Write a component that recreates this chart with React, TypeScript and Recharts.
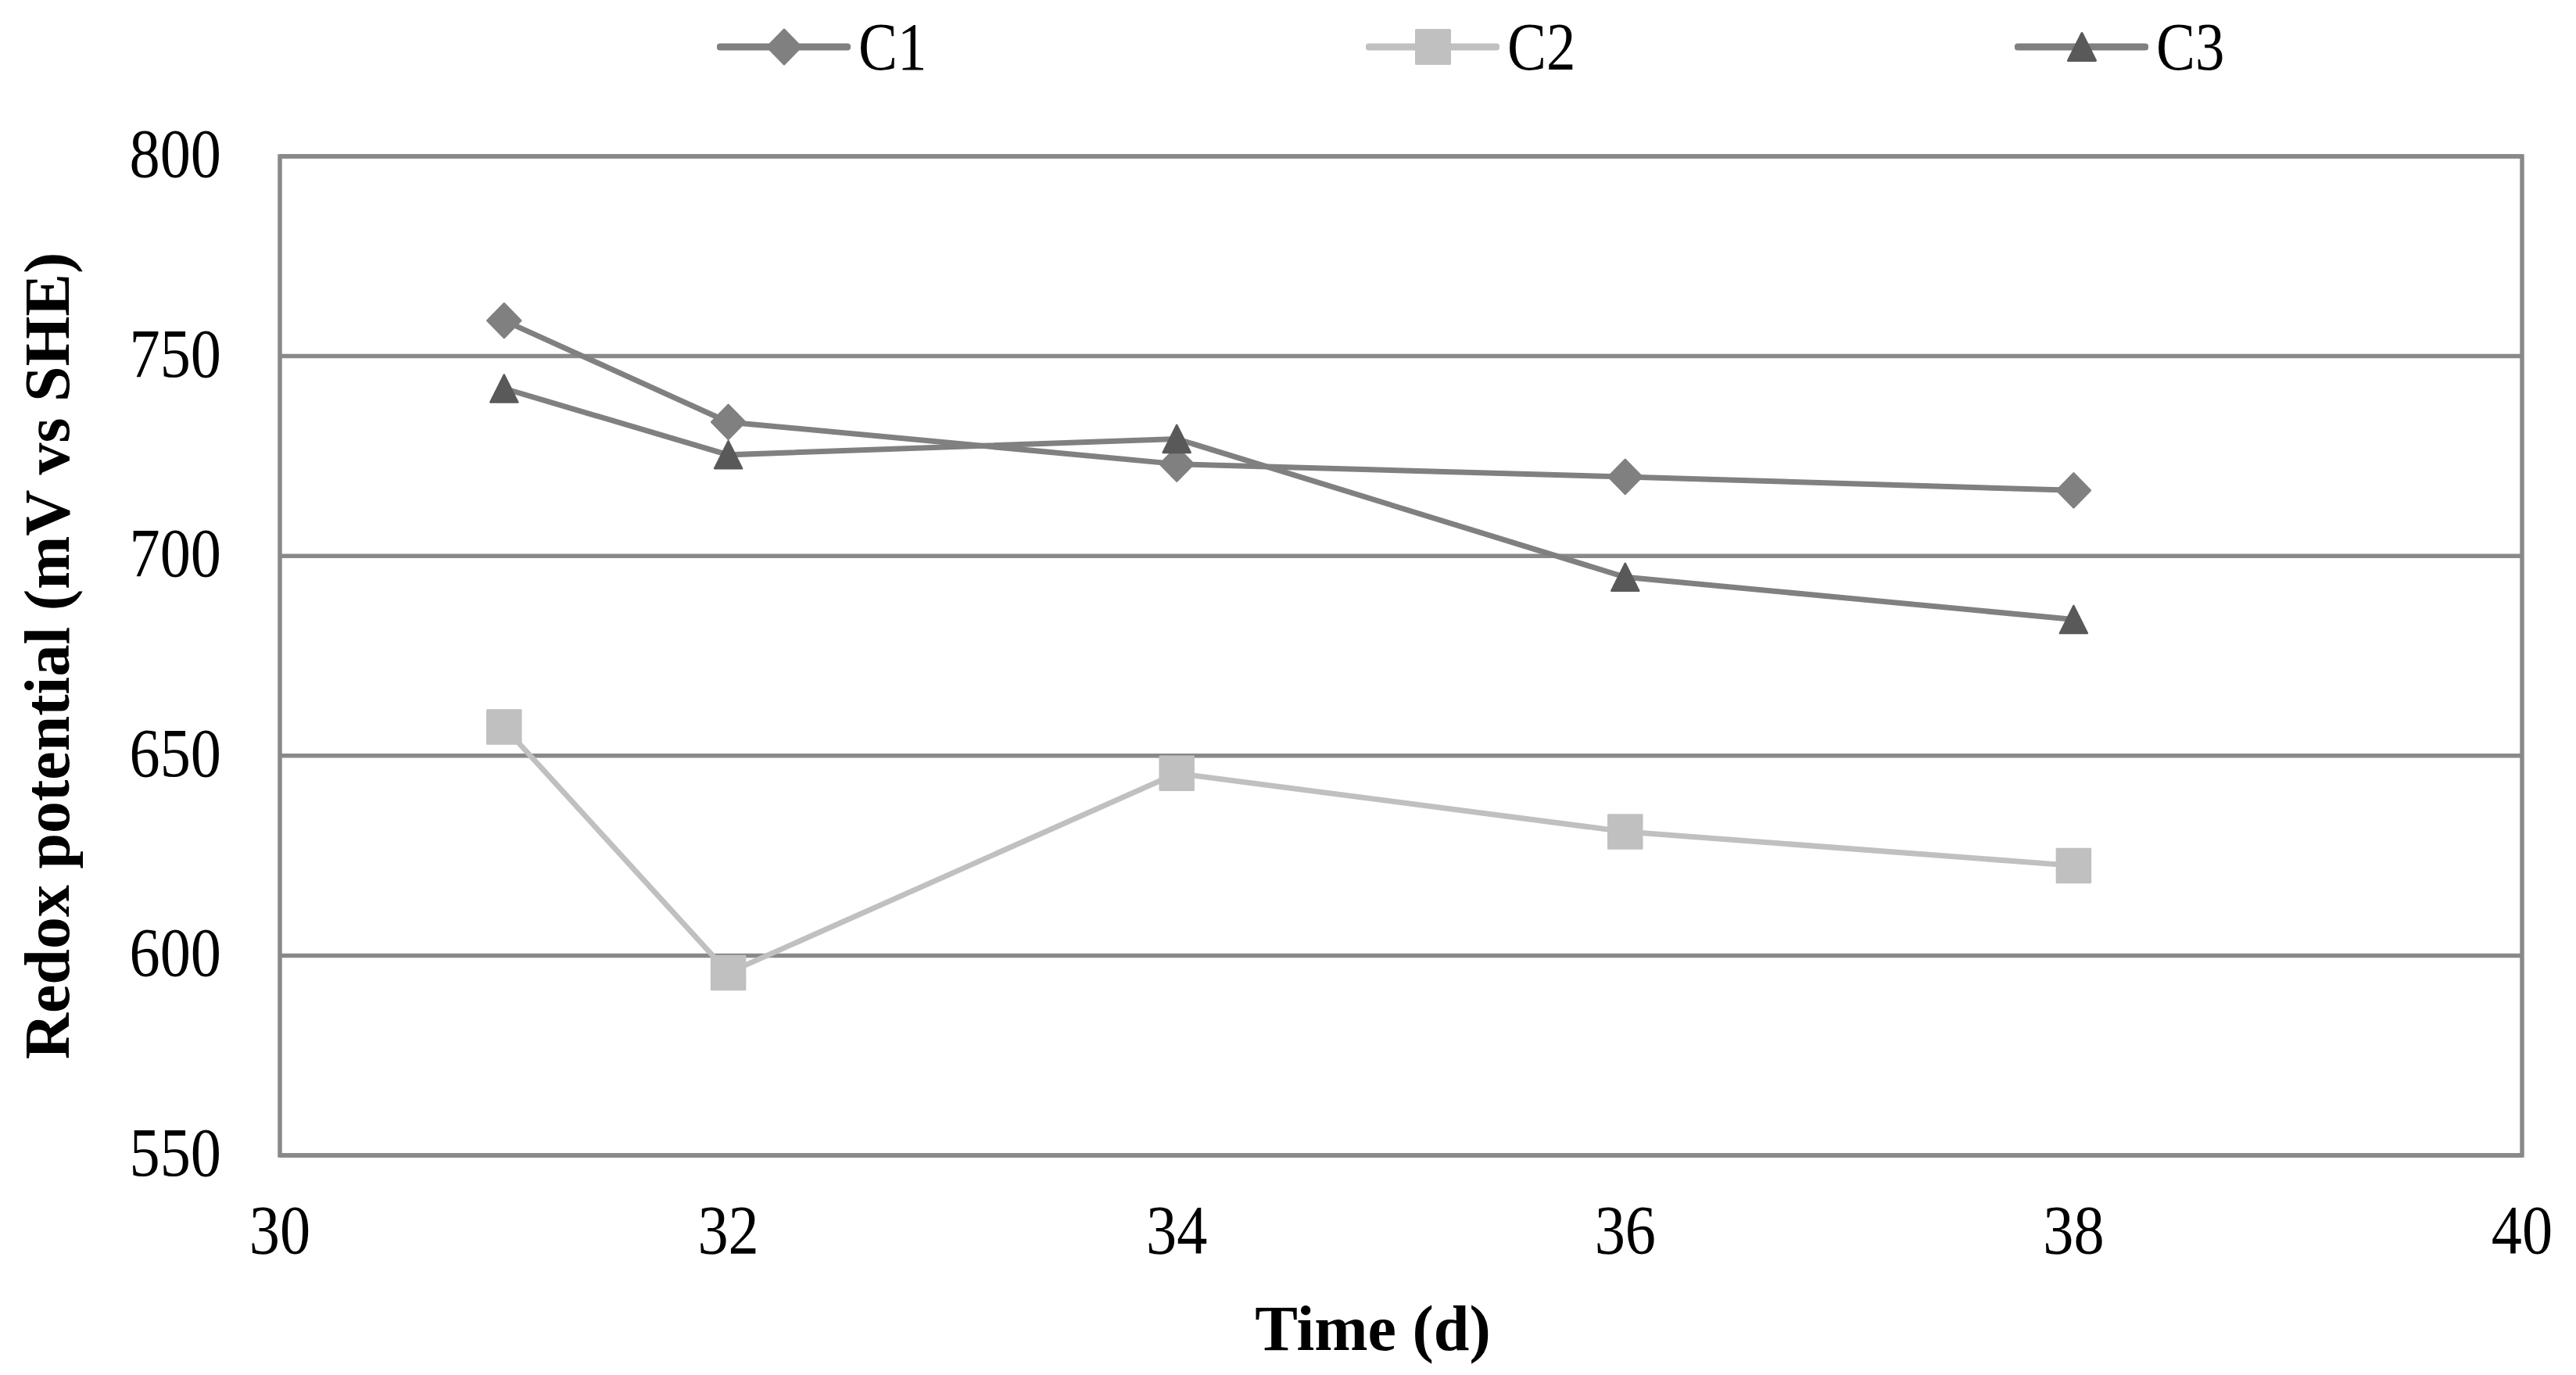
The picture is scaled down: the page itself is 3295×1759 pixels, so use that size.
import React from 'react'
import {
  LineChart,
  Line,
  XAxis,
  YAxis,
  CartesianGrid,
  Legend,
  ReferenceArea,
} from 'recharts'

// days of measurement
const days = [31, 32, 34, 36, 38]
// redox potential (mV vs SHE) per column
const c1 = [758.9, 733.5, 723, 719.8, 716.4]
const c2 = [657.2, 595.7, 645.6, 631, 622.5]
const c3 = [741.9, 725.3, 729.3, 694.7, 684.1]
const seriesNames = ['C1', 'C2', 'C3']
const xTicks = [30, 32, 34, 36, 38, 40]
const yTicks = [550, 600, 650, 700, 750, 800]

const data = days.map((d, i) => ({ day: d, C1: c1[i], C2: c2[i], C3: c3[i] }))

const GRID = '#898989'
const SERIF = '"Liberation Serif", "Times New Roman", serif'

const diamondPath = (cx: number, cy: number, w: number, h: number) =>
  `M${cx},${cy - h / 2} L${cx + w / 2},${cy} L${cx},${cy + h / 2} L${cx - w / 2},${cy} Z`
const squarePath = (cx: number, cy: number, s: number) =>
  `M${cx - s / 2},${cy - s / 2} h${s} v${s} h${-s} Z`
const trianglePath = (cx: number, cy: number, w: number, h: number) =>
  `M${cx},${cy - h / 2} L${cx + w / 2},${cy + h / 2} L${cx - w / 2},${cy + h / 2} Z`

const markers: Record<string, { path: (cx: number, cy: number) => string; fill: string; line: string }> = {
  C1: { path: (cx, cy) => diamondPath(cx, cy, 43, 44), fill: '#808080', line: '#808080' },
  C2: { path: (cx, cy) => squarePath(cx, cy, 43), fill: '#c0c0c0', line: '#c0c0c0' },
  C3: { path: (cx, cy) => trianglePath(cx, cy, 35, 35), fill: '#595959', line: '#808080' },
}

const makeDot = (name: string) => (props: any) => {
  const { cx, cy, index } = props
  if (cx == null || cy == null) return <g key={`${name}-${index}`} />
  const m = markers[name]
  return (
    <path
      key={`${name}-${index}`}
      d={m.path(cx, cy)}
      fill={m.fill}
      stroke={m.fill}
      strokeWidth={2.5}
      strokeLinejoin="round"
    />
  )
}

const YTick = (props: any) => {
  const { x, y, payload } = props
  return (
    <g transform={`translate(${x - 75},${y + 26}) scale(0.89,1)`}>
      <text x={0} y={0} textAnchor="end" fontSize={88} fontFamily={SERIF} fill="#000">
        {payload.value}
      </text>
    </g>
  )
}

const XTick = (props: any) => {
  const { x, y, payload } = props
  return (
    <g transform={`translate(${x},${y + 125}) scale(0.89,1)`}>
      <text x={0} y={0} textAnchor="middle" fontSize={88} fontFamily={SERIF} fill="#000">
        {payload.value}
      </text>
    </g>
  )
}

const LegendBox = () => (
  <div style={{ height: 120, display: 'flex', alignItems: 'center', paddingLeft: 917, boxSizing: 'border-box' }}>
    {seriesNames.map((name) => {
      const m = markers[name]
      return (
        <div key={name} style={{ width: 830, flexShrink: 0, display: 'flex', alignItems: 'center' }}>
          <svg width={171} height={60} style={{ display: 'block', flexShrink: 0 }}>
            <line x1={4} y1={30} x2={167} y2={30} stroke={m.line} strokeWidth={9} strokeLinecap="round" />
            <path d={m.path(86, 30)} fill={m.fill} stroke={m.fill} strokeWidth={3} strokeLinejoin="round" />
          </svg>
          <span
            style={{
              marginLeft: 10,
              fontFamily: SERIF,
              fontSize: 86,
              lineHeight: 1,
              display: 'inline-block',
              transform: 'scaleX(0.87)',
              transformOrigin: 'left center',
            }}
          >
            {name}
          </span>
        </div>
      )
    })}
  </div>
)

export default function App() {
  return (
    <div style={{ width: 3295, height: 1759, background: '#fff' }}>
      <style>{'body{margin:0;background:#fff}'}</style>
      <LineChart
        width={3295}
        height={1759}
        data={data}
        margin={{ top: 80, right: 69, bottom: 81, left: 158 }}
      >
        <CartesianGrid vertical={false} stroke={GRID} strokeWidth={5.5} />
        <ReferenceArea
          x1={30}
          x2={40}
          y1={550}
          y2={800}
          fill="none"
          fillOpacity={0}
          stroke={GRID}
          strokeWidth={5.5}
          strokeOpacity={1}
        />
        <XAxis
          dataKey="day"
          type="number"
          domain={[30, 40]}
          ticks={xTicks}
          axisLine={false}
          tickLine={false}
          tickSize={0}
          tickMargin={0}
          height={200}
          tick={<XTick />}
          label={{
            content: (p: any) => {
              const vb = p.viewBox
              return (
                <text
                  x={vb.x + vb.width / 2 - 36}
                  y={vb.y + 249}
                  textAnchor="middle"
                  fontSize={82}
                  fontWeight="bold"
                  fontFamily={SERIF}
                  fill="#000"
                >
                  Time (d)
                </text>
              )
            },
          }}
        />
        <YAxis
          type="number"
          domain={[550, 800]}
          ticks={yTicks}
          axisLine={false}
          tickLine={false}
          tickSize={0}
          tickMargin={0}
          width={200}
          tick={<YTick />}
          label={{
            content: (p: any) => {
              const vb = p.viewBox
              const cx = vb.x - 98
              const cy = vb.y + vb.height / 2
              return (
                <text
                  x={cx}
                  y={cy}
                  transform={`rotate(-90 ${cx} ${cy})`}
                  textAnchor="middle"
                  dominantBaseline="central"
                  fontSize={82}
                  fontWeight="bold"
                  fontFamily={SERIF}
                  fill="#000"
                >
                  Redox potential (mV vs SHE)
                </text>
              )
            },
          }}
        />
        <Legend
          verticalAlign="top"
          content={() => <LegendBox />}
          wrapperStyle={{ top: 0, left: 0, width: 3295, height: 120 }}
        />
        {seriesNames.map((name) => (
          <Line
            key={name}
            dataKey={name}
            name={name}
            stroke={markers[name].line}
            strokeWidth={7}
            dot={makeDot(name)}
            activeDot={false}
            isAnimationActive={false}
          />
        ))}
      </LineChart>
    </div>
  )
}
